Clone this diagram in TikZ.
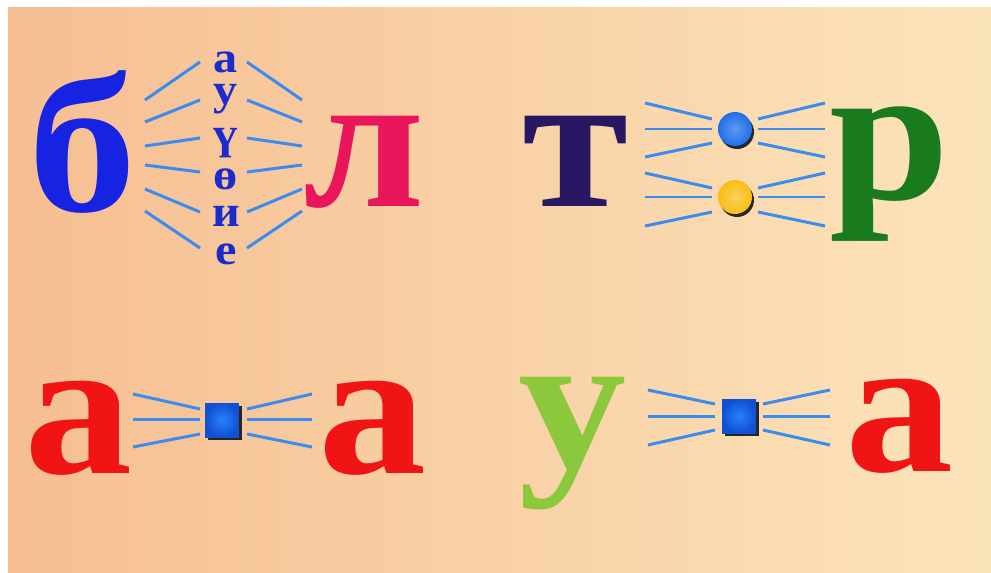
\documentclass[tikz,border=0pt]{standalone}
\usepackage{fontspec}
\setmainfont{Liberation Serif}
\newfontfamily\letterfont[FakeStretch=1.1]{Liberation Serif}
\usepackage{tikz}
\usetikzlibrary{shapes,arrows.meta,positioning,shadings}

\definecolor{bgleft}{RGB}{246,190,146}
\definecolor{bgright}{RGB}{252,228,186}
\definecolor{rayblue}{RGB}{60,140,240}
\definecolor{beblue}{RGB}{22,36,226}
\definecolor{vowblue}{RGB}{26,44,204}
\definecolor{elpink}{RGB}{234,22,92}
\definecolor{tenavy}{RGB}{40,24,100}
\definecolor{ergreen}{RGB}{26,122,30}
\definecolor{ared}{RGB}{240,20,20}
\definecolor{ugreen}{RGB}{140,200,60}
\definecolor{dotblue}{RGB}{30,110,235}
\definecolor{dotyellow}{RGB}{248,190,20}
\definecolor{sqlight}{RGB}{40,130,250}
\definecolor{sqdark}{RGB}{16,80,210}

\begin{document}
\begin{tikzpicture}[
  x=0.02cm, y=-0.02cm,
  big/.style={anchor=base, inner sep=0pt,
    font=\letterfont\fontsize{112}{112}\selectfont\bfseries},
  vow/.style={anchor=base, inner sep=0pt, text=vowblue,
    font=\letterfont\fontsize{25}{25}\selectfont\bfseries},
  ray/.style={draw=rayblue, line width=1.7pt},
  ball/.style={circle, inner sep=0pt, minimum size=0.68cm},
  shad/.style={fill=black!85, inner sep=0pt},
  sq/.style={rectangle, inner sep=0pt, minimum size=0.68cm,
    inner color=sqlight, outer color=sqdark}
]
% background
\fill[white] (0,0) rectangle (991,572);
\shade[left color=bgleft, right color=bgright] (8,7) rectangle (991,572);

% б -- vowels -- л
\node[big, text=beblue] (be) at (83,211) {б};
\node[big, text=elpink] (el) at (364,206) {л};
\node[vow] (v1) at (226,72)  {а};
\node[vow] (v2) at (226,104) {у};
\node[vow] (v3) at (226,148) {ү};
\node[vow] (v4) at (226,189) {ө};
\node[vow] (v5) at (226,226) {и};
\node[vow] (v6) at (226,264) {е};
\foreach \a/\b in {100/62,122/100,146/138,165/172,189/212,211/248}{
  \draw[ray] (145,\a) -- (200,\b);
  \draw[ray] (247,\b) -- (302,\a);
}

% т -- dots -- р
\node[big, text=tenavy]  (te) at (576,206) {т};
\node[big, text=ergreen] (er) at (890,199) {р};
\node[shad, circle, minimum size=0.68cm] at (737,132) {};
\node[ball, inner color=dotblue!70!white, outer color=dotblue] (dot1) at (735,129) {};
\node[shad, circle, minimum size=0.68cm] at (737,200) {};
\node[ball, inner color=dotyellow!70!white, outer color=dotyellow] (dot2) at (735,197) {};
\foreach \a/\b in {103/119,129/129,157/143,173/188,197/197,226/212}{
  \draw[ray] (645,\a) -- (712,\b);
  \draw[ray] (758,\b) -- (825,\a);
}

% а -- square -- а
\node[big, text=ared] (a1) at (79,473) {а};
\node[big, text=ared] (a2) at (373,473) {а};
\node[shad, minimum size=0.68cm] at (225,423) {};
\node[sq] (sq1) at (222,420) {};
\foreach \a/\b in {394/409,419/419,447/434}{
  \draw[ray] (133,\a) -- (200,\b);
  \draw[ray] (247,\b) -- (312,\a);
}

% у -- square -- а
\node[big, text=ugreen] (u) at (573,467) {у};
\node[big, text=ared]   (a3) at (900,471) {а};
\node[shad, minimum size=0.68cm] at (742,419) {};
\node[sq] (sq2) at (739,416) {};
\foreach \a/\b in {390/404,416/416,445/430}{
  \draw[ray] (648,\a) -- (715,\b);
  \draw[ray] (763,\b) -- (830,\a);
}
\end{tikzpicture}
\end{document}
